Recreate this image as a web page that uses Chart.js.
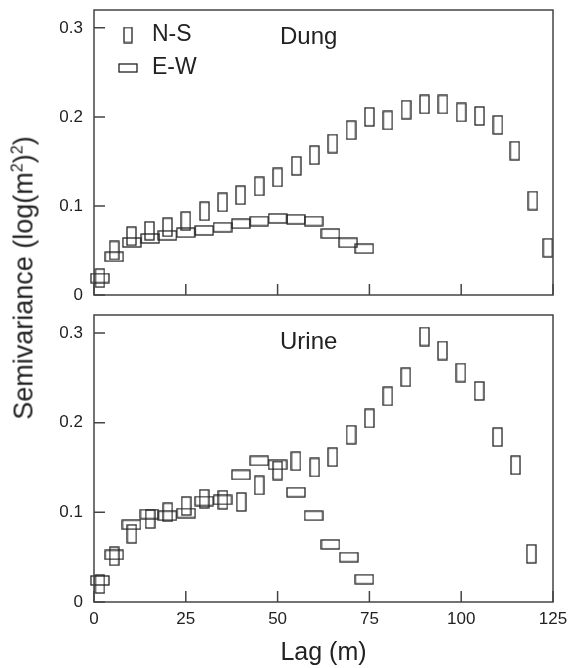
<!DOCTYPE html>
<html>
<head>
<meta charset="utf-8">
<title>Semivariance - Dung and Urine</title>
<script src="https://cdn.jsdelivr.net/npm/chart.js@4.4.1/dist/chart.umd.min.js"></script>
<style>
  body { margin: 0; background: #fff; font-family: "Liberation Sans", Arial, sans-serif; }
  #wrap { position: relative; width: 572px; height: 668px; overflow: hidden; }
  #dung { position: absolute; left: 0; top: 0; }
  #urine { position: absolute; left: 0; top: 300px; }
  #ytitle {
    position: absolute; left: 24px; top: 278px;
    transform: translate(-50%, -50%) rotate(-90deg);
    white-space: nowrap; font-size: 27px; color: #222;
  }
  #ytitle sup { font-size: 16px; }
</style>
</head>
<body>
<div id="wrap">
  <canvas id="dung" width="572" height="300"></canvas>
  <canvas id="urine" width="572" height="368"></canvas>
  <div id="ytitle">Semivariance (log(m<sup>2</sup>)<sup>2</sup>)</div>
</div>
<script>
// Axis ticks
const xTicks = [0, 25, 50, 75, 100, 125];
const yTicks = [0, 0.1, 0.2, 0.3];

// Dung semivariogram
const dungLagNS = [1.6, 5.5, 10.2, 15.1, 20, 25, 30.1, 35, 39.9, 45, 50, 55.1, 60, 65, 70, 75, 80, 85, 90, 95, 100, 105, 110, 114.6, 119.5, 123.6];
const dungNS = [0.019, 0.050, 0.066, 0.072, 0.076, 0.083, 0.094, 0.104, 0.112, 0.122, 0.132, 0.145, 0.157, 0.170, 0.185, 0.200, 0.196, 0.208, 0.214, 0.214, 0.205, 0.201, 0.191, 0.162, 0.106, 0.053];
const dungLagEW = [1.6, 5.5, 10.3, 15.3, 20, 25, 30, 35, 40, 45, 50, 55, 59.8, 64.4, 69.2, 73.6];
const dungEW = [0.019, 0.043, 0.059, 0.0635, 0.067, 0.070, 0.0725, 0.076, 0.080, 0.083, 0.086, 0.085, 0.083, 0.069, 0.0586, 0.052];

// Urine semivariogram
const urineLagNS = [1.6, 5.5, 10.3, 15.3, 20.1, 25.1, 30, 35.1, 40.1, 45, 50, 55, 60.1, 65, 70, 75, 80, 84.9, 90, 94.9, 99.9, 104.9, 109.9, 114.8, 119.1];
const urineNS = [0.020, 0.051, 0.076, 0.0925, 0.100, 0.107, 0.115, 0.114, 0.1115, 0.130, 0.1466, 0.157, 0.150, 0.1615, 0.1865, 0.2047, 0.2293, 0.2506, 0.296, 0.2804, 0.2558, 0.2353, 0.1839, 0.1525, 0.0537];
const urineLagEW = [1.6, 5.5, 10.2, 15.1, 20, 25.1, 30, 35, 40, 45, 50, 55, 59.8, 64.4, 69.4, 73.6];
const urineEW = [0.024, 0.0526, 0.0862, 0.098, 0.0962, 0.0992, 0.1126, 0.1138, 0.1417, 0.1574, 0.1529, 0.1224, 0.0962, 0.0642, 0.050, 0.0254];

const FONT = '"Liberation Sans", Arial, sans-serif';
const INK = '#222';
const FRAME = '#444';

// open rectangle used as a point marker
function rectMarker(w, h) {
  const c = document.createElement('canvas');
  c.width = w + 2;
  c.height = h + 2;
  const ctx = c.getContext('2d');
  ctx.strokeStyle = INK;
  ctx.lineWidth = 1.3;
  ctx.strokeRect(1, 1, w, h);
  return c;
}

const nsMarker = rectMarker(9, 18);
const ewMarker = rectMarker(18, 9);
const nsLegend = rectMarker(8, 15);
const ewLegend = rectMarker(18, 8);

function toPoints(lags, values) {
  return lags.map((lag, i) => ({ x: lag, y: values[i] }));
}

function makeDatasets(lagNS, ns, lagEW, ew) {
  return [
    { label: 'N-S', data: toPoints(lagNS, ns), pointStyle: nsMarker, clip: false },
    { label: 'E-W', data: toPoints(lagEW, ew), pointStyle: ewMarker, clip: false }
  ];
}

// frame, inward tick marks, panel label and legend
const panelDecor = {
  id: 'panelDecor',
  afterDraw(chart, args, opts) {
    const { ctx, chartArea: a, scales: { x, y } } = chart;
    ctx.save();
    ctx.strokeStyle = FRAME;
    ctx.lineWidth = 1.5;
    ctx.strokeRect(a.left, a.top, a.right - a.left, a.bottom - a.top);
    ctx.beginPath();
    xTicks.forEach(v => {
      const px = x.getPixelForValue(v);
      ctx.moveTo(px, a.bottom);
      ctx.lineTo(px, a.bottom - 11);
    });
    yTicks.forEach(v => {
      const py = y.getPixelForValue(v);
      ctx.moveTo(a.left, py);
      ctx.lineTo(a.left + 11, py);
    });
    ctx.stroke();

    ctx.fillStyle = INK;
    ctx.textBaseline = 'middle';
    ctx.font = '24px ' + FONT;
    ctx.fillText(opts.label, a.left + 186, a.top + 27);

    if (opts.legend) {
      ctx.font = '23px ' + FONT;
      const items = [[nsLegend, 'N-S', 25], [ewLegend, 'E-W', 58]];
      items.forEach(([img, text, dy]) => {
        ctx.drawImage(img, a.left + 34 - img.width / 2, a.top + dy - img.height / 2);
        ctx.fillText(text, a.left + 58, a.top + dy);
      });
    }
    ctx.restore();
  }
};

// keep the plot area where the layout padding puts it
function noPadding(s) {
  s.paddingTop = 0;
  s.paddingBottom = 0;
  s.paddingLeft = 0;
  s.paddingRight = 0;
}

function makeOptions(showX, label, legend, padding) {
  return {
    responsive: false,
    animation: false,
    layout: { padding },
    plugins: {
      legend: { display: false },
      tooltip: { enabled: false },
      panelDecor: { label, legend }
    },
    elements: {
      point: { radius: 5, borderWidth: 0 }
    },
    scales: {
      x: {
        type: 'linear',
        display: showX,
        min: 0,
        max: 125,
        grid: { display: false, drawTicks: false, tickLength: 0 },
        border: { display: false },
        afterBuildTicks: s => { s.ticks = xTicks.map(v => ({ value: v })); },
        afterFit: s => { s.height = showX ? 66 : 0; noPadding(s); },
        ticks: { color: INK, font: { family: FONT, size: 17 }, padding: 7, maxRotation: 0 },
        title: { display: showX, text: 'Lag (m)', color: INK, font: { family: FONT, size: 25 }, padding: 0 }
      },
      y: {
        min: 0,
        max: 0.32,
        grid: { display: false, drawTicks: false, tickLength: 0 },
        border: { display: false },
        afterBuildTicks: s => { s.ticks = yTicks.map(v => ({ value: v })); },
        afterFit: s => { s.width = 94; noPadding(s); },
        ticks: { color: INK, font: { family: FONT, size: 17 }, padding: 11 }
      }
    }
  };
}

new Chart(document.getElementById('dung'), {
  type: 'scatter',
  data: { datasets: makeDatasets(dungLagNS, dungNS, dungLagEW, dungEW) },
  options: makeOptions(false, 'Dung', true, { top: 10, right: 19, bottom: 4, left: 0 }),
  plugins: [panelDecor]
});

new Chart(document.getElementById('urine'), {
  type: 'scatter',
  data: { datasets: makeDatasets(urineLagNS, urineNS, urineLagEW, urineEW) },
  options: makeOptions(true, 'Urine', false, { top: 15, right: 19, bottom: 0, left: 0 }),
  plugins: [panelDecor]
});
</script>
</body>
</html>
